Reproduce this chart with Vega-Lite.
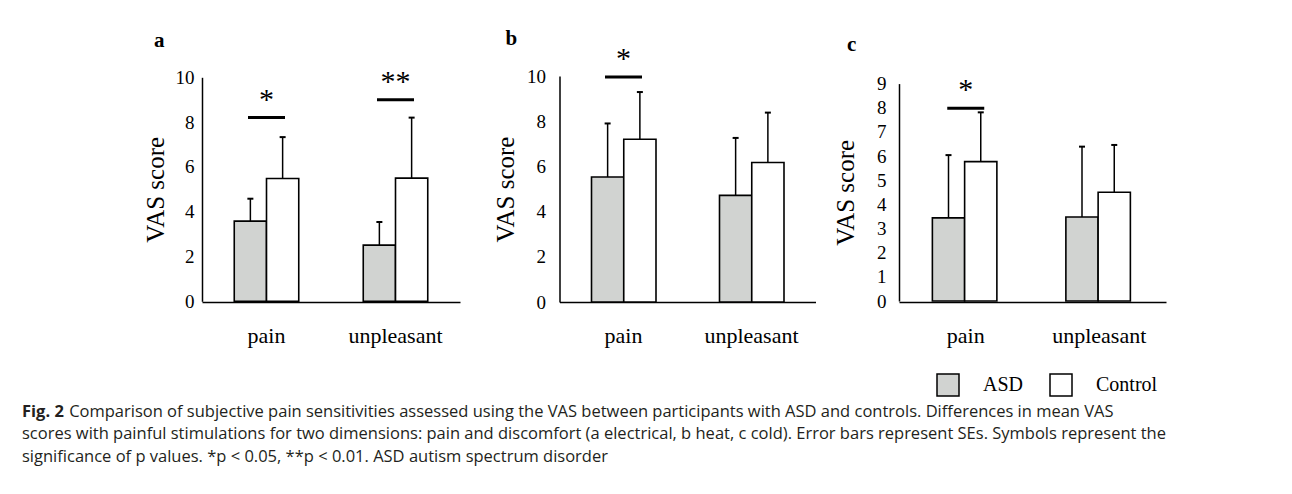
{
 "$schema": "https://vega.github.io/schema/vega-lite/v6.json",
 "background": "white",
 "padding": {"left": 22, "top": 27, "right": 5, "bottom": 5},
 "datasets": {
  "bars": [
   {"panel": "a", "condition": "pain", "group": "ASD", "mean": 3.58, "upper": 4.58},
   {"panel": "a", "condition": "pain", "group": "Control", "mean": 5.48, "upper": 7.33},
   {"panel": "a", "condition": "unpleasant", "group": "ASD", "mean": 2.51, "upper": 3.54},
   {"panel": "a", "condition": "unpleasant", "group": "Control", "mean": 5.5, "upper": 8.2},
   {"panel": "b", "condition": "pain", "group": "ASD", "mean": 5.53, "upper": 7.9},
   {"panel": "b", "condition": "pain", "group": "Control", "mean": 7.2, "upper": 9.29},
   {"panel": "b", "condition": "unpleasant", "group": "ASD", "mean": 4.72, "upper": 7.26},
   {"panel": "b", "condition": "unpleasant", "group": "Control", "mean": 6.17, "upper": 8.38},
   {"panel": "c", "condition": "pain", "group": "ASD", "mean": 3.44, "upper": 6.04},
   {"panel": "c", "condition": "pain", "group": "Control", "mean": 5.77, "upper": 7.81},
   {"panel": "c", "condition": "unpleasant", "group": "ASD", "mean": 3.48, "upper": 6.39},
   {"panel": "c", "condition": "unpleasant", "group": "Control", "mean": 4.5, "upper": 6.46}
  ],
  "sig": [
   {"panel": "a", "condition": "pain", "level": 8.2, "label": "*"},
   {"panel": "a", "condition": "unpleasant", "level": 9.0, "label": "**"},
   {"panel": "b", "condition": "pain", "level": 9.96, "label": "*"},
   {"panel": "c", "condition": "pain", "level": 7.98, "label": "*"}
  ]
 },
 "title": {
  "text": "Fig. 2",
  "subtitle": [
   "\u200b\u00a0\u00a0\u00a0\u00a0\u00a0\u00a0\u00a0\u00a0\u00a0\u00a0\u00a0Comparison of subjective pain sensitivities assessed using the VAS between participants with ASD and controls. Differences in mean VAS",
   "scores with painful stimulations for two dimensions: pain and discomfort (a electrical, b heat, c cold). Error bars represent SEs. Symbols represent the",
   "significance of p values. *p < 0.05, **p < 0.01. ASD autism spectrum disorder"
  ],
  "orient": "bottom", "anchor": "start", "frame": "group", "offset": 5,
  "font": "Open Sans", "fontSize": 16.5, "fontWeight": "bold", "color": "#231f20",
  "subtitleFont": "Open Sans", "subtitleFontSize": 16.5, "subtitleColor": "#231f20",
  "subtitleLineHeight": 22.3, "subtitlePadding": -16.5
 },
 "spacing": 0,
 "hconcat": [
  {"width": 121, "height": 10, "data": {"values": []}, "mark": {"type": "point", "opacity": 0}},
  {
   "spacing": 17,
   "hconcat": [
    {
     "spacing": 32.5,
     "hconcat": [
      {
       "width": 258, "height": 226,
       "title": {"text": "a", "anchor": "start", "frame": "group", "dx": -48, "offset": 16, "font": "Liberation Serif", "fontSize": 21, "fontWeight": "bold", "color": "black"},
       "layer": [
        {"data": {"name": "bars"}, "transform": [{"filter": "datum.panel === 'a'"}],
         "mark": {"type": "bar", "stroke": "black", "strokeWidth": 1.6},
         "encoding": {
          "x": {"field": "condition", "type": "nominal", "sort": ["pain", "unpleasant"], "title": null, "scale": {"paddingInner": 0.5, "paddingOuter": 0.25}},
          "xOffset": {"field": "group", "type": "nominal", "scale": {"domain": ["ASD", "Control"], "paddingInner": 0, "paddingOuter": 0}},
          "y": {"field": "mean", "type": "quantitative", "title": "VAS score", "scale": {"domain": [0, 10], "nice": false, "range": [225.3, 1.3]}, "axis": {"values": [0, 2, 4, 6, 8, 10], "title": "VAS score", "titlePadding": 6.5, "labelPadding": 8, "labelOverlap": false}},
          "fill": {"field": "group", "type": "nominal", "title": null, "scale": {"domain": ["ASD", "Control"], "range": ["#d1d3d1", "#ffffff"]}, "legend": {"orient": "none", "legendX": 914, "legendY": 297, "direction": "horizontal", "title": null}}
         }},
        {"data": {"name": "bars"}, "transform": [{"filter": "datum.panel === 'a'"}],
         "mark": {"type": "rule", "color": "black", "strokeWidth": 1.5},
         "encoding": {
          "x": {"field": "condition", "type": "nominal", "sort": ["pain", "unpleasant"], "title": null},
          "xOffset": {"field": "group", "type": "nominal"},
          "y": {"field": "mean", "type": "quantitative", "title": "VAS score"},
          "y2": {"field": "upper"}
         }},
        {"data": {"name": "bars"}, "transform": [{"filter": "datum.panel === 'a'"}],
         "mark": {"type": "tick", "orient": "horizontal", "color": "black", "opacity": 1, "size": 6, "thickness": 2},
         "encoding": {
          "x": {"field": "condition", "type": "nominal", "sort": ["pain", "unpleasant"], "title": null},
          "xOffset": {"field": "group", "type": "nominal"},
          "y": {"field": "upper", "type": "quantitative", "title": "VAS score"}
         }},
        {"data": {"name": "sig"}, "transform": [{"filter": "datum.panel === 'a'"}],
         "mark": {"type": "tick", "orient": "horizontal", "color": "black", "opacity": 1, "size": 37, "thickness": 3},
         "encoding": {
          "x": {"field": "condition", "type": "nominal", "sort": ["pain", "unpleasant"], "title": null},
          "y": {"field": "level", "type": "quantitative", "title": "VAS score"}
         }},
        {"data": {"name": "sig"}, "transform": [{"filter": "datum.panel === 'a'"}],
         "mark": {"type": "text", "font": "Liberation Serif", "fontSize": 30, "baseline": "alphabetic", "dy": -9, "color": "black"},
         "encoding": {
          "x": {"field": "condition", "type": "nominal", "sort": ["pain", "unpleasant"], "title": null},
          "y": {"field": "level", "type": "quantitative", "title": "VAS score"},
          "text": {"field": "label"}
         }}
       ]
      },
      {
       "width": 256, "height": 226,
       "title": {"text": "b", "anchor": "start", "frame": "group", "dx": -54, "offset": -5, "font": "Liberation Serif", "fontSize": 21, "fontWeight": "bold", "color": "black"},
       "layer": [
        {"data": {"name": "bars"}, "transform": [{"filter": "datum.panel === 'b'"}],
         "mark": {"type": "bar", "stroke": "black", "strokeWidth": 1.6},
         "encoding": {
          "x": {"field": "condition", "type": "nominal", "sort": ["pain", "unpleasant"], "title": null, "scale": {"paddingInner": 0.5, "paddingOuter": 0.25}},
          "xOffset": {"field": "group", "type": "nominal", "scale": {"domain": ["ASD", "Control"], "paddingInner": 0, "paddingOuter": 0}},
          "y": {"field": "mean", "type": "quantitative", "title": "VAS score", "scale": {"domain": [0, 10], "nice": false}, "axis": {"values": [0, 2, 4, 6, 8, 10], "title": "VAS score", "titlePadding": 8.5, "labelPadding": 14, "labelOverlap": false}},
          "fill": {"field": "group", "type": "nominal", "title": null, "scale": {"domain": ["ASD", "Control"], "range": ["#d1d3d1", "#ffffff"]}, "legend": {"orient": "none", "legendX": 914, "legendY": 297, "direction": "horizontal", "title": null}}
         }},
        {"data": {"name": "bars"}, "transform": [{"filter": "datum.panel === 'b'"}],
         "mark": {"type": "rule", "color": "black", "strokeWidth": 1.5},
         "encoding": {
          "x": {"field": "condition", "type": "nominal", "sort": ["pain", "unpleasant"], "title": null},
          "xOffset": {"field": "group", "type": "nominal"},
          "y": {"field": "mean", "type": "quantitative", "title": "VAS score"},
          "y2": {"field": "upper"}
         }},
        {"data": {"name": "bars"}, "transform": [{"filter": "datum.panel === 'b'"}],
         "mark": {"type": "tick", "orient": "horizontal", "color": "black", "opacity": 1, "size": 6, "thickness": 2},
         "encoding": {
          "x": {"field": "condition", "type": "nominal", "sort": ["pain", "unpleasant"], "title": null},
          "xOffset": {"field": "group", "type": "nominal"},
          "y": {"field": "upper", "type": "quantitative", "title": "VAS score"}
         }},
        {"data": {"name": "sig"}, "transform": [{"filter": "datum.panel === 'b'"}],
         "mark": {"type": "tick", "orient": "horizontal", "color": "black", "opacity": 1, "size": 37, "thickness": 3},
         "encoding": {
          "x": {"field": "condition", "type": "nominal", "sort": ["pain", "unpleasant"], "title": null},
          "y": {"field": "level", "type": "quantitative", "title": "VAS score"}
         }},
        {"data": {"name": "sig"}, "transform": [{"filter": "datum.panel === 'b'"}],
         "mark": {"type": "text", "font": "Liberation Serif", "fontSize": 30, "baseline": "alphabetic", "dy": -9, "color": "black"},
         "encoding": {
          "x": {"field": "condition", "type": "nominal", "sort": ["pain", "unpleasant"], "title": null},
          "y": {"field": "level", "type": "quantitative", "title": "VAS score"},
          "text": {"field": "label"}
         }}
       ]
      }
     ]
    },
    {
     "width": 267, "height": 226,
     "title": {"text": "c", "anchor": "start", "frame": "group", "dx": -52, "offset": 20, "font": "Liberation Serif", "fontSize": 21, "fontWeight": "bold", "color": "black"},
     "layer": [
      {"data": {"name": "bars"}, "transform": [{"filter": "datum.panel === 'c'"}],
       "mark": {"type": "bar", "stroke": "black", "strokeWidth": 1.6},
       "encoding": {
        "x": {"field": "condition", "type": "nominal", "sort": ["pain", "unpleasant"], "title": null, "scale": {"paddingInner": 0.5, "paddingOuter": 0.25}},
        "xOffset": {"field": "group", "type": "nominal", "scale": {"domain": ["ASD", "Control"], "paddingInner": 0, "paddingOuter": 0}},
        "y": {"field": "mean", "type": "quantitative", "title": "VAS score", "scale": {"domain": [0, 9], "nice": false, "range": [225, 7.6]}, "axis": {"values": [0, 1, 2, 3, 4, 5, 6, 7, 8, 9], "title": "VAS score", "titlePadding": 18, "labelPadding": 13, "labelOverlap": false, "labelSeparation": 0}},
        "fill": {"field": "group", "type": "nominal", "title": null, "scale": {"domain": ["ASD", "Control"], "range": ["#d1d3d1", "#ffffff"]}, "legend": {"orient": "none", "legendX": 914, "legendY": 297, "direction": "horizontal", "title": null}}
       }},
      {"data": {"name": "bars"}, "transform": [{"filter": "datum.panel === 'c'"}],
       "mark": {"type": "rule", "color": "black", "strokeWidth": 1.5},
       "encoding": {
        "x": {"field": "condition", "type": "nominal", "sort": ["pain", "unpleasant"], "title": null},
        "xOffset": {"field": "group", "type": "nominal"},
        "y": {"field": "mean", "type": "quantitative", "title": "VAS score", "axis": {"values": [0, 1, 2, 3, 4, 5, 6, 7, 8, 9], "labelOverlap": false}},
        "y2": {"field": "upper"}
       }},
      {"data": {"name": "bars"}, "transform": [{"filter": "datum.panel === 'c'"}],
       "mark": {"type": "tick", "orient": "horizontal", "color": "black", "opacity": 1, "size": 6, "thickness": 2},
       "encoding": {
        "x": {"field": "condition", "type": "nominal", "sort": ["pain", "unpleasant"], "title": null},
        "xOffset": {"field": "group", "type": "nominal"},
        "y": {"field": "upper", "type": "quantitative", "title": "VAS score", "axis": {"values": [0, 1, 2, 3, 4, 5, 6, 7, 8, 9], "labelOverlap": false}}
       }},
      {"data": {"name": "sig"}, "transform": [{"filter": "datum.panel === 'c'"}],
       "mark": {"type": "tick", "orient": "horizontal", "color": "black", "opacity": 1, "size": 37, "thickness": 3},
       "encoding": {
        "x": {"field": "condition", "type": "nominal", "sort": ["pain", "unpleasant"], "title": null},
        "y": {"field": "level", "type": "quantitative", "title": "VAS score", "axis": {"values": [0, 1, 2, 3, 4, 5, 6, 7, 8, 9], "labelOverlap": false}}
       }},
      {"data": {"name": "sig"}, "transform": [{"filter": "datum.panel === 'c'"}],
       "mark": {"type": "text", "font": "Liberation Serif", "fontSize": 30, "baseline": "alphabetic", "dy": -9, "color": "black"},
       "encoding": {
        "x": {"field": "condition", "type": "nominal", "sort": ["pain", "unpleasant"], "title": null},
        "y": {"field": "level", "type": "quantitative", "title": "VAS score", "axis": {"values": [0, 1, 2, 3, 4, 5, 6, 7, 8, 9], "labelOverlap": false}},
        "text": {"field": "label"}
       }}
     ]
    }
   ]
  }
 ],
 "config": {
  "view": {"stroke": null},
  "axis": {"ticks": false, "grid": false, "domainColor": "black", "domainWidth": 1.5, "labelFont": "Liberation Serif", "labelColor": "black", "labelOverlap": false, "titleFont": "Liberation Serif", "titleColor": "black", "titleFontWeight": "normal"},
  "axisY": {"labelFontSize": 19, "titleFontSize": 25},
  "axisX": {"labelFontSize": 22, "labelPadding": 23, "labelAngle": 0},
  "legend": {"symbolType": "square", "symbolSize": 484, "symbolStrokeColor": "black", "symbolStrokeWidth": 1.5, "labelFont": "Liberation Serif", "labelFontSize": 20, "labelColor": "black", "labelOffset": 23, "columnPadding": 23, "padding": 0}
 }
}
